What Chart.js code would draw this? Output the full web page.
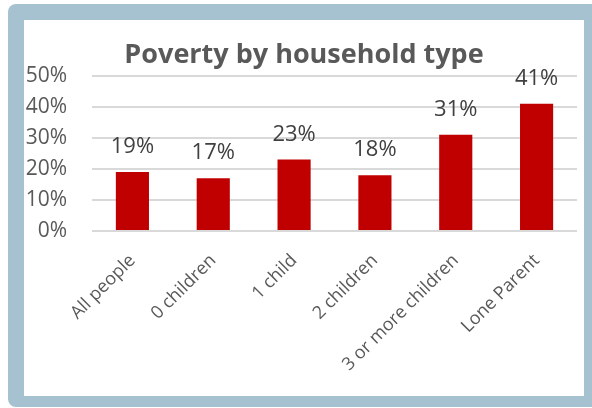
<!DOCTYPE html>
<html>
<head>
<meta charset="utf-8">
<script src="https://cdn.jsdelivr.net/npm/chart.js@4.4.1/dist/chart.umd.min.js"></script>
<style>
  html, body { margin: 0; padding: 0; background: #fff; }
  body { width: 592px; height: 408px; position: relative; overflow: hidden; }
  .frame { position: absolute; left: 8px; top: 4px; width: 592px; height: 403px; background: #a6c1d0; border-radius: 8px; }
  .inner { position: absolute; left: 24px; top: 20px; width: 560px; height: 376px; background: #fff; }
  #chart { position: absolute; left: 0; top: 0; }
</style>
</head>
<body>
<div class="frame"></div>
<div class="inner"></div>
<canvas id="chart" width="592" height="408"></canvas>
<script>
const categories = ['All people', '0 children', '1 child', '2 children', '3 or more children', 'Lone Parent'];
const poverty = [19, 17, 23, 18, 31, 41];
const yTicks = [0, 10, 20, 30, 40, 50];

const FONT = "'Open Sans', 'DejaVu Sans', sans-serif";

// value labels above each bar
const barLabels = {
    id: 'barLabels',
    afterDatasetsDraw(chart) {
        const ctx = chart.ctx;
        const meta = chart.getDatasetMeta(0);
        ctx.save();
        ctx.font = `22px ${FONT}`;
        ctx.fillStyle = '#404040';
        ctx.textAlign = 'center';
        ctx.textBaseline = 'alphabetic';
        meta.data.forEach((bar, i) => {
            ctx.fillText(poverty[i] + '%', bar.x, bar.y - 19);
        });
        ctx.restore();
    }
};

new Chart(document.getElementById('chart'), {
    type: 'bar',
    data: {
        labels: categories,
        datasets: [{
            data: poverty,
            backgroundColor: '#c00000',
            barPercentage: 0.41,
            categoryPercentage: 1
        }]
    },
    options: {
        responsive: false,
        animation: false,
        devicePixelRatio: 1,
        layout: { padding: { left: 24, right: 8, top: 0, bottom: 0 } },
        plugins: {
            legend: { display: false },
            tooltip: { enabled: false },
            title: {
                display: true,
                text: 'Poverty by household type',
                color: '#595959',
                font: { family: FONT, size: 27, weight: 'bold' },
                padding: { top: 39, bottom: 4.4 }
            }
        },
        scales: {
            x: {
                grid: { display: false },
                border: { display: false },
                ticks: {
                    color: '#595959',
                    font: { family: FONT, size: 18 },
                    maxRotation: 45,
                    minRotation: 45,
                    autoSkip: false,
                    padding: 11
                },
                afterFit(scale) { scale.height = 177; }
            },
            y: {
                min: 0,
                max: 50,
                afterBuildTicks(scale) { scale.ticks = yTicks.map(v => ({ value: v })); },
                grid: { color: '#d9d9d9', lineWidth: 2, drawTicks: false },
                border: { display: false },
                ticks: {
                    color: '#595959',
                    font: { family: FONT, size: 21 },
                    padding: 25,
                    callback: v => v + '%'
                },
                afterFit(scale) { scale.width = 68; }
            },
            // empty right-hand gap so the plot ends short of the frame
            gap: {
                position: 'right',
                grid: { display: false },
                border: { display: false },
                ticks: { display: false },
                afterFit(scale) { scale.width = 7; }
            }
        }
    },
    plugins: [barLabels]
});
</script>
</body>
</html>
